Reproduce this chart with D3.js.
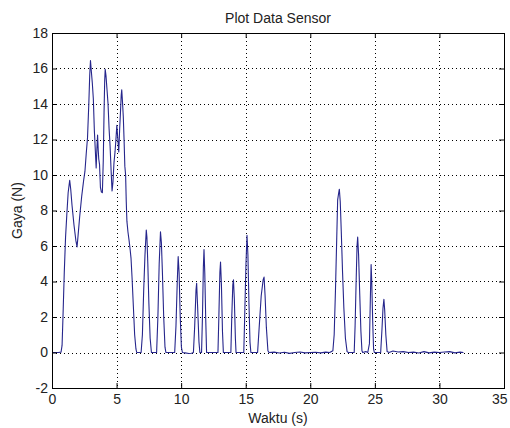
<!DOCTYPE html>
<html>
<head>
<meta charset="utf-8">
<script src="https://cdn.jsdelivr.net/npm/d3@7"></script>
<style>
  html, body { margin: 0; padding: 0; background: #ffffff; }
  svg { display: block; }
  text { font-family: "Liberation Sans", Arial, sans-serif; }
</style>
</head>
<body>
<svg id="chart" width="510" height="428"></svg>
<script>
// ---- data ----
const title = "Plot Data Sensor";
const xLabel = "Waktu (s)";
const yLabel = "Gaya (N)";
const xTicks = [0, 5, 10, 15, 20, 25, 30, 35];
const yTicks = [-2, 0, 2, 4, 6, 8, 10, 12, 14, 16, 18];

const time = [
  0, 0.5, 0.7, 0.78, 0.85, 0.95, 1.05, 1.15, 1.25, 1.37, 1.45, 1.55, 1.7, 1.85, 1.94,
  2.02, 2.15, 2.3, 2.45, 2.55, 2.65, 2.75, 2.85, 2.92, 2.98, 3.05, 3.12, 3.2, 3.28, 3.36,
  3.42, 3.48, 3.53, 3.58, 3.62, 3.68, 3.75, 3.82, 3.9, 3.97, 4.03, 4.08, 4.12, 4.18, 4.26,
  4.34, 4.42, 4.5, 4.58, 4.65, 4.72, 4.8, 4.88, 4.95, 5.02, 5.1, 5.17, 5.24, 5.3, 5.36,
  5.4, 5.46, 5.52, 5.58, 5.64, 5.7, 5.75, 5.8, 5.88, 5.97, 6.05, 6.12, 6.2, 6.3, 6.4,
  6.5, 6.56, 6.9, 7.0, 7.1, 7.2, 7.3, 7.35, 7.42, 7.5, 7.6, 7.7, 8.1, 8.2, 8.3,
  8.4, 8.47, 8.55, 8.65, 8.75, 8.82, 9.5, 9.6, 9.7, 9.77, 9.84, 9.93, 10.02, 10.1, 10.3,
  10.6, 10.8, 10.95, 11.05, 11.15, 11.2, 11.28, 11.38, 11.45, 11.58, 11.65, 11.72, 11.77, 11.83, 11.9,
  11.97, 12.85, 12.92, 13.0, 13.05, 13.12, 13.2, 13.27, 13.85, 13.92, 14.0, 14.05, 14.12, 14.2, 14.25,
  14.85, 14.92, 15.02, 15.1, 15.17, 15.25, 15.33, 15.4, 15.92, 16.05, 16.2, 16.35, 16.42, 16.5, 16.6,
  16.72, 16.8, 17.2, 17.6, 18.0, 18.4, 18.8, 19.2, 19.6, 20.0, 20.4, 20.8, 21.2, 21.5, 21.75,
  21.85, 21.95, 22.05, 22.12, 22.2, 22.25, 22.32, 22.4, 22.5, 22.6, 22.72, 22.85, 22.95, 23.4, 23.47,
  23.55, 23.62, 23.67, 23.74, 23.82, 23.92, 24.0, 24.06, 24.3, 24.45, 24.58, 24.65, 24.71, 24.76, 24.83,
  24.9, 24.96, 25.45, 25.55, 25.63, 25.7, 25.76, 25.85, 25.95, 26.1, 26.4, 26.8, 27.2, 27.6, 28.0,
  28.4, 28.8, 29.2, 29.6, 30.0, 30.4, 30.8, 31.2, 31.6, 31.86
];
const force = [
  0, 0, 0.02, 0.4, 2.0, 4.5, 6.5, 7.8, 9.0, 9.7, 9.2, 8.3, 7.2, 6.3, 5.95,
  6.6, 7.7, 8.8, 9.7, 10.2, 11.2, 12.1, 14.0, 15.6, 16.45, 15.8, 15.2, 14.3, 12.5, 11.3,
  10.4, 11.5, 12.25, 11.4, 10.9, 10.6, 9.3, 9.05, 9.0, 10.8, 13.5, 15.3, 15.95, 15.6, 14.8,
  14.0, 12.6, 11.6, 10.2, 9.1, 9.6, 10.7, 11.3, 12.0, 12.8, 12.0, 11.3, 12.6, 13.5, 14.5,
  14.8, 14.1, 13.3, 12.0, 10.5, 10.0, 8.5, 7.4, 6.8, 6.3, 5.8, 5.3, 4.2, 2.6, 1.0,
  0.2, 0, 0, 1.0, 3.5, 5.5, 6.9, 6.5, 5.0, 2.8, 0.8, 0, 0, 2.0, 5.0,
  6.8, 6.2, 4.5, 2.0, 0.3, 0, 0, 1.5, 4.0, 5.4, 4.5, 2.0, 0.3, 0, -0.02,
  -0.06, -0.04, 0, 1.5, 3.5, 3.9, 2.5, 0.6, 0, 0, 2.0, 4.8, 5.8, 4.5, 2.0,
  0, 0, 2.0, 4.5, 5.1, 3.8, 1.2, 0, 0, 2.0, 3.8, 4.1, 3.0, 0.8, 0,
  0, 2.0, 5.0, 6.6, 5.5, 2.8, 0.6, 0, 0, 1.5, 3.2, 4.1, 4.25, 3.2, 1.4,
  0.1, 0, 0.02, -0.03, 0.01, -0.05, 0, 0.03, -0.02, 0, 0.01, -0.02, 0.02, 0, 0.1,
  1.0, 3.5, 6.5, 8.6, 9.0, 9.2, 8.5, 6.8, 4.5, 2.5, 0.8, 0.05, 0, 0, 1.5,
  4.0, 6.0, 6.5, 5.5, 3.5, 1.2, 0.1, 0, 0.05, 0, 0.5, 3.0, 4.95, 4.0, 1.8,
  0.2, 0, 0, 1.3, 2.5, 3.0, 2.4, 1.0, 0.05, 0, 0.08, 0.03, 0.05, 0, 0.02,
  -0.03, 0.05, -0.02, 0.02, 0, 0.03, 0.05, -0.02, 0.02, 0
];

// ---- layout ----
const W = 510, H = 428;
const plot = { left: 52, right: 504, top: 33, bottom: 388 };
const lineColor = "#26268c";
const fontSize = 14;

const svg = d3.select("#chart");
svg.append("rect").attr("width", W).attr("height", H).attr("fill", "#ffffff");

const x = d3.scaleLinear().domain([0, 35]).range([plot.left, plot.right]);
const y = d3.scaleLinear().domain([-2, 18]).range([plot.bottom, plot.top]);

// grid (dotted)
const grid = svg.append("g").attr("stroke", "#000").attr("stroke-width", 1)
  .attr("stroke-dasharray", "1,3").attr("shape-rendering", "crispEdges");
grid.selectAll("line.gx").data(xTicks.slice(1, -1)).join("line")
  .attr("x1", d => Math.round(x(d)) + 0.5).attr("x2", d => Math.round(x(d)) + 0.5)
  .attr("y1", plot.top).attr("y2", plot.bottom);
grid.selectAll("line.gy").data(yTicks.slice(1, -1)).join("line")
  .attr("y1", d => Math.round(y(d)) + 0.5).attr("y2", d => Math.round(y(d)) + 0.5)
  .attr("x1", plot.left).attr("x2", plot.right);

// data line
const pts = time.map((t, i) => [t, force[i]]);
svg.append("path")
  .datum(pts)
  .attr("fill", "none")
  .attr("stroke", lineColor)
  .attr("stroke-width", 1.1)
  .attr("stroke-linejoin", "round")
  .attr("d", d3.line().x(d => x(d[0])).y(d => y(d[1])));

// axes with inward ticks (MATLAB style)
const fmt = d => String(d);   // plain hyphen minus, like the reference
function styleAxis(g) {
  g.select(".domain").remove();
  g.selectAll(".tick line").attr("stroke", "#000");
  g.selectAll(".tick text").attr("fill", "#222").attr("font-size", fontSize)
    .attr("font-family", "'Liberation Sans', Arial, sans-serif");
}
const xAxisG = svg.append("g").attr("transform", `translate(0,${plot.bottom})`)
  .call(d3.axisBottom(x).tickValues(xTicks).tickSize(-5).tickPadding(6).tickFormat(fmt))
  .call(styleAxis);
// last label kept inside the window, as in the reference
xAxisG.selectAll(".tick text").filter(d => d === xTicks[xTicks.length - 1])
  .attr("text-anchor", "end").attr("dx", 3);
svg.append("g").attr("transform", `translate(0,${plot.top})`)
  .call(d3.axisTop(x).tickValues(xTicks).tickSize(-5).tickFormat(""))
  .call(styleAxis);
svg.append("g").attr("transform", `translate(${plot.left},0)`)
  .call(d3.axisLeft(y).tickValues(yTicks).tickSize(-5).tickPadding(4).tickFormat(fmt))
  .call(styleAxis);
svg.append("g").attr("transform", `translate(${plot.right},0)`)
  .call(d3.axisRight(y).tickValues(yTicks).tickSize(-5).tickFormat(""))
  .call(styleAxis);

// box
svg.append("rect")
  .attr("x", plot.left + 0.5).attr("y", plot.top + 0.5)
  .attr("width", plot.right - plot.left).attr("height", plot.bottom - plot.top)
  .attr("fill", "none").attr("stroke", "#000").attr("stroke-width", 1)
  .attr("shape-rendering", "crispEdges");

// texts
const cx = (plot.left + plot.right) / 2;
svg.append("text").attr("x", cx).attr("y", 23).attr("text-anchor", "middle")
  .attr("font-size", fontSize).attr("fill", "#222").text(title);
svg.append("text").attr("x", cx).attr("y", 423).attr("text-anchor", "middle")
  .attr("font-size", fontSize).attr("fill", "#222").text(xLabel);
svg.append("text").attr("transform", `translate(22,${(plot.top + plot.bottom) / 2}) rotate(-90)`)
  .attr("text-anchor", "middle").attr("font-size", fontSize).attr("fill", "#222").text(yLabel);
</script>
</body>
</html>
